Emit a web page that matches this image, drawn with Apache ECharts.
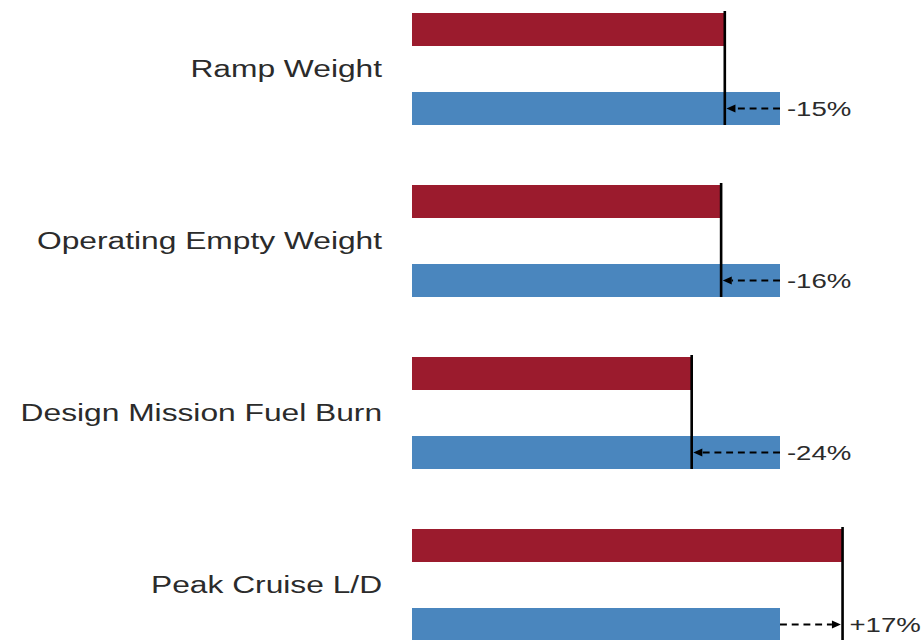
<!DOCTYPE html>
<html>
<head>
<meta charset="utf-8">
<script src="https://cdn.jsdelivr.net/npm/echarts@6/dist/echarts.min.js"></script>
<style>
  html, body { margin: 0; padding: 0; background: #fff; overflow: hidden; width: 923px; height: 640px; position: relative; }
  /* the figure is drawn narrow and widened horizontally; its bottom row runs past the page edge */
  #chart { position: absolute; left: 0; top: -17.5px; width: 669px; height: 688px; transform: scaleX(1.38); transform-origin: 0 0; }
</style>
</head>
<body>
<div id="chart"></div>
<script>
// Metrics compared, top to bottom
const categories = ['Ramp Weight', 'Operating Empty Weight', 'Design Mission Fuel Burn', 'Peak Cruise L/D'];
// Baseline aircraft, normalised to 100
const baselineValues = [100, 100, 100, 100];
// Advanced configuration relative to the baseline
const advancedValues = [85, 84, 76, 117];

const RED = '#9b1b2d';
const BLUE = '#4a86be';
const TEXT = '#2b2b2b';
const FONT = '"Liberation Sans", Arial, Helvetica, sans-serif';

const BAR_W = 33;
const BAR_GAP = 46;
const HALF_SPAN = (BAR_W + BAR_GAP) / 2;

function changeText(i) {
  const pct = Math.round((advancedValues[i] - baselineValues[i]) / baselineValues[i] * 100);
  return (pct > 0 ? '+' : '') + pct + '%';
}

const deltaData = categories.map((c, i) => [i, advancedValues[i], baselineValues[i], changeText(i)]);

const chart = echarts.init(document.getElementById('chart'), null, { renderer: 'svg' });

chart.setOption({
  animation: false,
  backgroundColor: '#fff',
  grid: { left: 298.55, width: 368, top: 0, bottom: 0 },
  xAxis: {
    type: 'value', min: 0, max: 138, show: false
  },
  yAxis: {
    type: 'category',
    inverse: true,
    data: categories,
    axisLine: { show: false },
    axisTick: { show: false },
    splitLine: { show: false },
    axisLabel: { margin: 21.7, fontSize: 23, color: TEXT, fontFamily: FONT }
  },
  series: [
    {
      name: 'Advanced',
      type: 'bar',
      data: advancedValues,
      barWidth: BAR_W,
      barGap: (BAR_GAP / BAR_W * 100).toFixed(1) + '%',
      itemStyle: { color: RED }
    },
    {
      name: 'Baseline',
      type: 'bar',
      data: baselineValues,
      barWidth: BAR_W,
      itemStyle: { color: BLUE }
    },
    {
      name: 'Change',
      type: 'custom',
      data: deltaData,
      encode: { x: [1, 2], y: 0 },
      z: 10,
      renderItem: function (params, api) {
        const cat = api.value(0);
        const adv = api.value(1);
        const base = api.value(2);
        const label = deltaData[params.dataIndex][3];
        const pA = api.coord([adv, cat]);
        const pB = api.coord([base, cat]);
        const cy = pA[1];
        const ay = cy + HALF_SPAN;
        const dir = adv < base ? -1 : 1;
        const tip = pA[0] - dir * 1.2;
        const headLen = 6.5;
        const children = [
          {
            type: 'line',
            shape: { x1: pA[0], y1: cy - HALF_SPAN - BAR_W / 2 - 2, x2: pA[0], y2: cy + HALF_SPAN + BAR_W / 2 },
            style: { stroke: '#000', lineWidth: 1.9 }
          },
          {
            type: 'line',
            shape: { x1: pB[0], y1: ay, x2: tip - dir * headLen, y2: ay },
            style: { stroke: '#000', lineWidth: 2, lineDash: [5, 3.5] }
          },
          {
            type: 'polygon',
            shape: { points: [[tip, ay], [tip - dir * headLen, ay - 4], [tip - dir * headLen, ay + 4]] },
            style: { fill: '#000' }
          },
          {
            type: 'text',
            x: Math.max(pA[0], pB[0]) + 5,
            y: ay,
            style: {
              text: label,
              fontSize: 20,
              fontFamily: FONT,
              fill: TEXT,
              textAlign: 'left',
              textVerticalAlign: 'middle'
            }
          }
        ];
        return { type: 'group', children: children };
      }
    }
  ]
});
</script>
</body>
</html>
